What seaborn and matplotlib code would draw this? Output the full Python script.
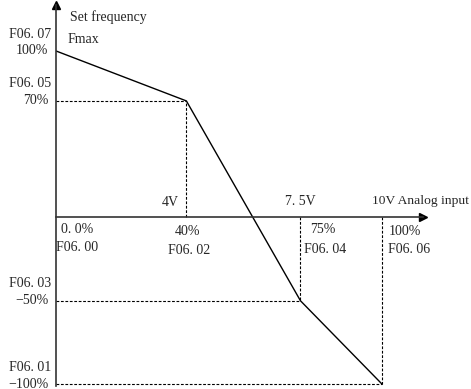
import pandas as pd
import matplotlib
matplotlib.use("Agg")
import matplotlib.pyplot as plt
import seaborn as sns

# curve corner points: analog input (%) -> set frequency (%)
input_pct = [0, 40, 75, 100]
freq_pct = [100, 70, -50, -100]
x_params = ["F06. 00", "F06. 02", "F06. 04", "F06. 06"]
x_pct_labels = ["0. 0%", "40%", "75%", "100%"]
y_params = ["F06. 07", "F06. 05", "F06. 03", "F06. 01"]
y_pct_labels = ["100%", "70%", "\u221250%", "\u2212100%"]
volt_inputs = [40, 75]
volt_labels = ["4V", "7. 5V"]

df = pd.DataFrame({"input": input_pct, "freq": freq_pct})

sns.set_style("white")
plt.rcParams["font.family"] = ["Liberation Serif", "DejaVu Serif"]

fig = plt.figure(figsize=(4.71, 3.89), dpi=100)
ax = fig.add_axes([56 / 471, 2.8 / 389, 366.7 / 471, 381.2 / 389])

sns.lineplot(data=df, x="input", y="freq", sort=False, color="black", lw=1, ax=ax)

# dashed guide lines to the corner points
dash = dict(colors="black", linestyles=(0, (2.5, 1.5)), lw=0.8)
ax.hlines(freq_pct[1:], 0, input_pct[1:], **dash)
ax.vlines(input_pct[1:], 0, freq_pct[1:], **dash)

ax.set_xlim(0, 112.5)
ax.set_ylim(-101.3, 127.6)
ax.set_xticks([])
ax.set_yticks([])
ax.set_xlabel("")
ax.set_ylabel("")
for s in ["top", "right"]:
    ax.spines[s].set_visible(False)
ax.spines["bottom"].set_position(("data", 0))
ax.spines["left"].set_position(("data", 0))
for s in ["bottom", "left"]:
    ax.spines[s].set_color("#333333")
    ax.spines[s].set_linewidth(1.2)
ax.plot(1, 0, ">", color="black", ms=6, transform=ax.get_yaxis_transform(), clip_on=False)
ax.plot(0, 1, "^", color="black", ms=6, transform=ax.get_xaxis_transform(), clip_on=False)

fs = 10
# y axis labels
for yv, p, t in zip(freq_pct, y_params, y_pct_labels):
    ax.annotate(p, (0, yv), xytext=(-3.6, 12.2), textcoords="offset points",
                ha="right", va="center", fontsize=fs)
    ax.annotate(t, (0, yv), xytext=(-5.5, 0), textcoords="offset points",
                ha="right", va="center", fontsize=fs)

# x axis labels
pct_off = [(15, -8.9), (0.7, -10.3), (16.3, -8.9), (16.3, -10.3)]
par_off = [(15.5, -21.8), (2, -24), (17.8, -23.3), (19.2, -23.3)]
for xv, p, t, po, qo in zip(input_pct, x_params, x_pct_labels, par_off, pct_off):
    ax.annotate(t, (xv, 0), xytext=qo, textcoords="offset points",
                ha="center", va="center", fontsize=fs)
    ax.annotate(p, (xv, 0), xytext=po, textcoords="offset points",
                ha="center", va="center", fontsize=fs)

volt_off = [(-11.5, 10.6), (0, 11.3)]
for xv, t, o in zip(volt_inputs, volt_labels, volt_off):
    ax.annotate(t, (xv, 0), xytext=o, textcoords="offset points",
                ha="center", va="center", fontsize=fs)

ax.annotate("10V Analog input", (input_pct[-1], 0), xytext=(-6.9, 12), textcoords="offset points",
            ha="left", va="center", fontsize=9.7)
ax.annotate("Set frequency", (0, freq_pct[0]), xytext=(10, 24.5), textcoords="offset points",
            ha="left", va="center", fontsize=10)
ax.annotate("Fmax", (0, freq_pct[0]), xytext=(8.6, 7.9), textcoords="offset points",
            ha="left", va="center", fontsize=fs)

fig.savefig("out.png", dpi=100)
